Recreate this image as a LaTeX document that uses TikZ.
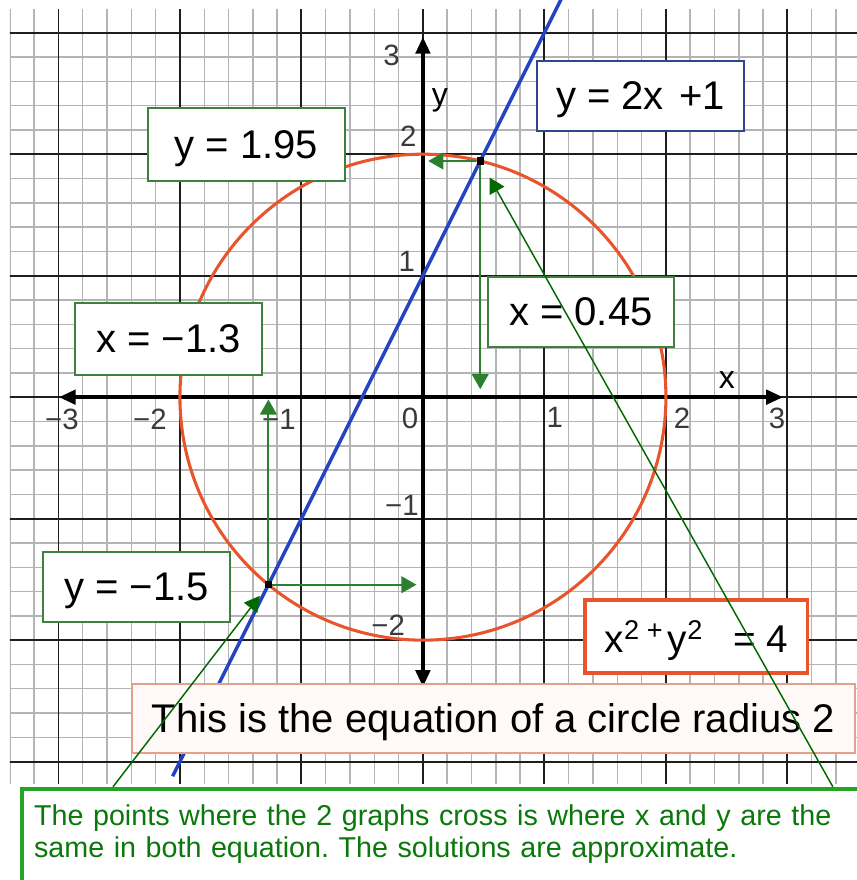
\documentclass[tikz,border=0pt]{standalone}
\usepackage{fontspec}
\setmainfont{Liberation Sans}
\usetikzlibrary{arrows.meta}
\frenchspacing
\definecolor{GridMinor}{HTML}{B4B4B4}
\definecolor{GridMajor}{HTML}{1E1E1E}
\definecolor{LineBlue}{HTML}{2444C4}
\definecolor{CircleRed}{HTML}{E8552C}
\definecolor{ReadGreen}{HTML}{2C7F2C}
\definecolor{PointGreen}{HTML}{006A00}
\definecolor{BoxGreen}{HTML}{3F7F3F}
\definecolor{BoxBlue}{HTML}{2E4590}
\definecolor{NoteEdge}{HTML}{E4A08C}
\definecolor{NoteFill}{HTML}{FFFAF7}
\definecolor{CapEdge}{HTML}{24A424}
\definecolor{CapText}{HTML}{0B780B}
\definecolor{TickGray}{HTML}{3A3A3A}
\tikzset{
  gridminor/.style={draw=GridMinor, line width=1.1pt},
  gridmajor/.style={draw=GridMajor, line width=1.4pt},
  axisline/.style={{Triangle[length=4.4mm,width=3.8mm]}-{Triangle[length=4.4mm,width=3.8mm]}, line width=2.6pt, draw=black},
  curveline/.style={draw=CircleRed, line width=2.3pt},
  straightline/.style={draw=LineBlue, line width=2.6pt},
  ticklab/.style={font=\fontsize{22}{24}\selectfont, text=TickGray, inner sep=0pt, text depth=0pt},
  axislab/.style={font=\fontsize{24}{26}\selectfont, text=black, inner sep=0pt},
  valbox/.style={draw=BoxGreen, line width=1.1pt, fill=white, font=\fontsize{30}{34}\selectfont, text depth=0pt, inner sep=0pt},
  linebox/.style={valbox, draw=BoxBlue},
  circbox/.style={valbox, draw=CircleRed, line width=2.4pt, font=\fontsize{29}{34}\selectfont},
  notebox/.style={valbox, draw=NoteEdge, fill=NoteFill},
  capbox/.style={draw=CapEdge, line width=3pt, fill=white, text=CapText, font=\fontsize{21.5}{24}\selectfont, align=left, text width=25cm, inner xsep=3.2mm, inner ysep=4.2mm, text depth=3cm, anchor=north west},
  crossdot/.style={fill=black, inner sep=0pt, minimum size=5.5pt},
  readarrow/.style={-{Triangle[length=4mm,width=4.4mm]}, line width=1.5pt, draw=ReadGreen},
  pointarrow/.style={-{Triangle[length=4mm,width=4.4mm]}, line width=1.1pt, draw=PointGreen},
}
\begin{document}
\begin{tikzpicture}[x=3.2cm, y=3.2cm]
  \useasboundingbox (-3.481,-3.974) rectangle (3.572,3.269);
  \clip (-3.481,-3.974) rectangle (3.572,3.269);
  \begin{scope}
    \clip (-3.399,-3.179) rectangle (3.6,3.187);
    \draw[gridminor] (-3.4,-3.4) grid[step=0.2] (3.6,3.4);
    \draw[gridmajor] (-4,-4) grid[step=1] (4,4);
  \end{scope}
  \coordinate (O) at (0,0);
  \coordinate (xl) at (-2.996,0);
  \coordinate (xr) at (2.963,0);
  \coordinate (yb) at (0,-2.385);
  \coordinate (yt) at (0,2.965);
  \draw[axisline] (xl) -- (xr);
  \draw[axisline] (yb) -- (yt);
  \node[ticklab] (ty3) at (-0.258,2.816) {3};
  \node[ticklab] (ty2) at (-0.121,2.144) {2};
  \node[ticklab] (ty1) at (-0.132,1.115) {1};
  \node[ticklab] (t0) at (-0.107,-0.170) {0};
  \node[ticklab] (tym1) at (-0.173,-0.887) {−1};
  \node[ticklab] (tym2) at (-0.286,-1.875) {−2};
  \node[ticklab] (txm3) at (-2.971,-0.185) {−3};
  \node[ticklab] (txm2) at (-2.247,-0.185) {−2};
  \node[ticklab] (txm1) at (-1.185,-0.185) {−1};
  \node[ticklab] (tx1) at (1.086,-0.170) {1};
  \node[ticklab] (tx2) at (2.132,-0.170) {2};
  \node[ticklab] (tx3) at (2.914,-0.170) {3};
  \node[axislab] (xlab) at (2.502,0.142) {x};
  \node[axislab] (ylab) at (0.140,2.446) {y};
  \draw[curveline] (O) circle[radius=2];
  \draw[straightline] (-2.06,-3.12) -- (1.15,3.3);
  \node[crossdot] (P) at (0.4718,1.9436) {};
  \node[crossdot] (Q) at (-1.2718,-1.5436) {};
  \node[valbox, minimum width=5.19cm, minimum height=1.92cm] (yval) at (-1.453,2.080) {y = 1.95};
  \node[linebox, minimum width=5.45cm, minimum height=1.84cm] (lineeq) at (1.790,2.479) {y = 2x\hspace{0.1em} +1};
  \node[valbox, minimum width=4.92cm, minimum height=1.90cm] (xneg) at (-2.095,0.479) {x = −1.3};
  \node[valbox, minimum width=4.90cm, minimum height=1.84cm] (xpos) at (1.300,0.701) {x = 0.45};
  \node[valbox, minimum width=4.92cm, minimum height=1.84cm] (yneg) at (-2.358,-1.562) {y = −1.5};
  \node[circbox, minimum width=5.87cm, minimum height=1.92cm] (circeq) at (2.251,-1.970) {x\textsuperscript{2 +}\hspace{0.12em}y\textsuperscript{2}\hspace{0.5em} = 4};
  \node[notebox, minimum width=19.04cm, minimum height=1.82cm] (circnote) at (0.580,-2.644) {This is the equation of a circle radius 2};
  \draw[readarrow, shorten >=1.4mm] (P) -- (P -| O);
  \draw[readarrow, shorten >=2.1mm] (P) -- (P |- O);
  \draw[readarrow, shorten >=1.7mm] (Q) -- (Q -| O);
  \draw[readarrow, shorten >=0.6mm] (Q) -- (Q |- O);
  \node[capbox] (caption) at (-3.317,-3.207) {The points where the 2 graphs cross is where x and y are the\\ same in both equation. The solutions are approximate.};
  \coordinate (capL) at (-2.551,-3.207);
  \coordinate (capR) at (3.374,-3.207);
  \draw[pointarrow, shorten >=3.7mm] (capL) -- (Q.center);
  \draw[pointarrow, shorten >=5mm] (capR) -- (P.center);
\end{tikzpicture}
\end{document}
